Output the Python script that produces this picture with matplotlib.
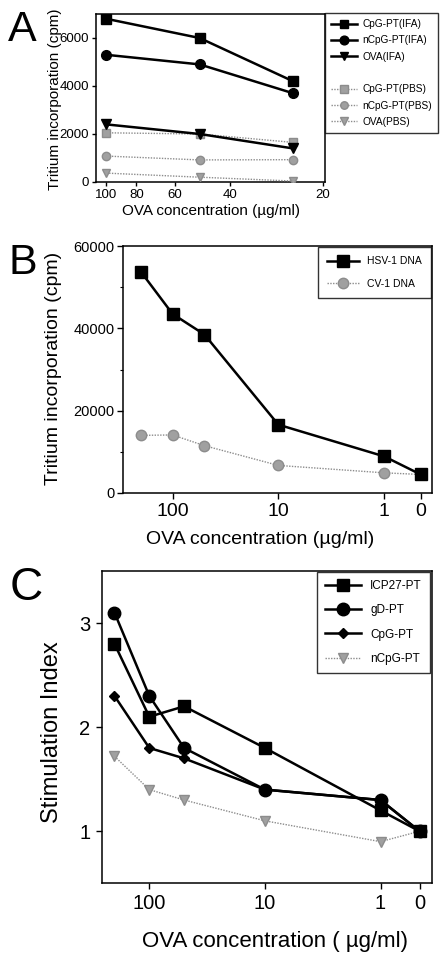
import matplotlib
matplotlib.use("Agg")
import matplotlib.pyplot as plt
from matplotlib.lines import Line2D
from matplotlib.ticker import FixedLocator, NullLocator, MultipleLocator

plt.rcParams['font.family'] = ['Liberation Sans', 'DejaVu Sans']

# ---------------- data ----------------
conc_A = [100, 50, 25]
cpg_ifa = [6800, 6000, 4200]
ncpg_ifa = [5300, 4900, 3700]
ova_ifa = [2400, 2000, 1400]
cpg_pbs = [2050, 2000, 1650]
ncpg_pbs = [1080, 920, 930]
ova_pbs = [370, 200, 40]
ticks_A = [100, 80, 60, 40, 20]

conc_B = [200, 100, 50, 10, 1, 0]
hsv_dna = [53800, 43500, 38500, 16600, 8900, 4500]
cv_dna = [14000, 14100, 11500, 6700, 4900, 4500]

conc_C = [200, 100, 50, 10, 1, 0]
icp27 = [2.8, 2.1, 2.2, 1.8, 1.2, 1.0]
gd = [3.1, 2.3, 1.8, 1.4, 1.3, 1.0]
cpg = [2.3, 1.8, 1.7, 1.4, 1.3, 1.0]
ncpg = [1.72, 1.4, 1.3, 1.1, 0.9, 1.0]
ticks_BC = [100, 10, 1, 0]
ticklabels_BC = ['100', '10', '1', '0']

W, H = 441, 958
fig = plt.figure(figsize=(W / 100, H / 100), dpi=100)

def fbox(l, t, r, b):
    return [l / W, 1 - b / H, (r - l) / W, (b - t) / H]

GRAY = '#8c8c8c'
GRAYF = '#a0a0a0'
blk = dict(color='black', lw=1.8, zorder=4)
gry = dict(color=GRAY, lw=1.0, ls=(0, (1, 1)), zorder=3)

# ---------------- Panel A ----------------
axA = fig.add_axes(fbox(96, 14, 325, 182))
axA.set_xscale('log')
axA.plot(conc_A, cpg_ifa, marker='s', ms=7, mfc='black', mec='black', label='CpG-PT(IFA)', **blk)
axA.plot(conc_A, ncpg_ifa, marker='o', ms=7, mfc='black', mec='black', label='nCpG-PT(IFA)', **blk)
axA.plot(conc_A, ova_ifa, marker='v', ms=7, mfc='black', mec='black', label='OVA(IFA)', **blk)
axA.plot(conc_A, cpg_pbs, marker='s', ms=6, mfc=GRAYF, mec=GRAY, label='CpG-PT(PBS)', **gry)
axA.plot(conc_A, ncpg_pbs, marker='o', ms=6, mfc=GRAYF, mec=GRAY, label='nCpG-PT(PBS)', **gry)
axA.plot(conc_A, ova_pbs, marker='v', ms=6, mfc=GRAYF, mec=GRAY, label='OVA(PBS)', **gry)
axA.set_xlim(108, 19.7)
axA.set_ylim(0, 7000)
axA.xaxis.set_major_locator(FixedLocator(ticks_A))
axA.xaxis.set_minor_locator(NullLocator())
axA.set_xticklabels([str(t) for t in ticks_A])
axA.yaxis.set_major_locator(FixedLocator([0, 2000, 4000, 6000]))
axA.tick_params(labelsize=9.5, length=3, width=1, direction='out', pad=2)

hA, lA = axA.get_legend_handles_labels()
blank = Line2D([], [], color='none')
legA = fig.legend(hA[:3] + [blank] + hA[3:], lA[:3] + [''] + lA[3:],
                  loc='upper left', bbox_to_anchor=(325 / W, 1 - 13 / H),
                  bbox_transform=fig.transFigure, borderaxespad=0,
                  fontsize=7.3, frameon=True, fancybox=False, edgecolor='black',
                  handlelength=2.6, labelspacing=0.62, borderpad=0.6,
                  handletextpad=0.5, markerscale=0.9)
legA.get_frame().set_linewidth(1.0)

fig.text(22 / W, 1 - 30 / H, 'A', fontsize=31, ha='center', va='center')
fig.text(55 / W, 1 - 99 / H, 'Tritium incorporation (cpm)', rotation=90,
         fontsize=11, ha='center', va='center')
fig.text(211 / W, 1 - 211 / H, 'OVA concentration (\u00b5g/ml)', fontsize=11,
         ha='center', va='center')

# ---------------- Panel B ----------------
axB = fig.add_axes(fbox(122.7, 246, 432, 493))
axB.set_xscale('symlog', linthresh=1, linscale=0.311)
axB.plot(conc_B, hsv_dna, marker='s', ms=9, mfc='black', mec='black', label='HSV-1 DNA', **blk)
axB.plot(conc_B, cv_dna, marker='o', ms=7.5, mfc=GRAYF, mec=GRAY, label='CV-1 DNA', **gry)
axB.set_xlim(296, -0.31)
axB.set_ylim(0, 60000)
axB.xaxis.set_major_locator(FixedLocator(ticks_BC))
axB.xaxis.set_minor_locator(NullLocator())
axB.set_xticklabels(ticklabels_BC)
axB.yaxis.set_major_locator(FixedLocator([0, 20000, 40000, 60000]))
axB.yaxis.set_minor_locator(MultipleLocator(10000))
axB.tick_params(axis='x', labelsize=14, length=4, width=1, pad=3)
axB.tick_params(axis='y', labelsize=10.5, length=4, width=1, pad=2)
axB.tick_params(which='minor', length=2, width=0.8)
legB = axB.legend(loc='upper right', bbox_to_anchor=(431 / W, 1 - 247 / H),
                  bbox_transform=fig.transFigure, borderaxespad=0,
                  fontsize=7.5, frameon=True, fancybox=False, edgecolor='black',
                  handlelength=3.0, labelspacing=1.2, borderpad=0.9,
                  handletextpad=0.8)
legB.get_frame().set_linewidth(1.0)

fig.text(23 / W, 1 - 263 / H, 'B', fontsize=31, ha='center', va='center')
fig.text(54 / W, 1 - 368 / H, 'Tritium incorporation (cpm)', rotation=90,
         fontsize=14, ha='center', va='center')
fig.text(260 / W, 1 - 540 / H, 'OVA concentration (\u00b5g/ml)', fontsize=14,
         ha='center', va='center')

# ---------------- Panel C ----------------
axC = fig.add_axes(fbox(101.7, 571, 431.7, 883.3))
axC.set_xscale('symlog', linthresh=1, linscale=0.304)
axC.plot(conc_C, icp27, marker='s', ms=9, mfc='black', mec='black', label='ICP27-PT', **blk)
axC.plot(conc_C, gd, marker='o', ms=9, mfc='black', mec='black', label='gD-PT', **blk)
axC.plot(conc_C, cpg, marker='D', ms=5.5, mfc='black', mec='black', label='CpG-PT', **blk)
axC.plot(conc_C, ncpg, marker='v', ms=7, mfc=GRAYF, mec=GRAY, label='nCpG-PT', **gry)
axC.set_xlim(258, -0.31)
axC.set_ylim(0.5, 3.5)
axC.xaxis.set_major_locator(FixedLocator(ticks_BC))
axC.xaxis.set_minor_locator(NullLocator())
axC.set_xticklabels(ticklabels_BC)
axC.yaxis.set_major_locator(FixedLocator([1, 2, 3]))
axC.tick_params(labelsize=14.5, length=4, width=1, pad=4)
legC = axC.legend(loc='upper right', bbox_to_anchor=(430 / W, 1 - 571.5 / H),
                  bbox_transform=fig.transFigure, borderaxespad=0,
                  fontsize=8.5, frameon=True, fancybox=False, edgecolor='black',
                  handlelength=3.0, labelspacing=1.05, borderpad=0.7,
                  handletextpad=0.8)
legC.get_frame().set_linewidth(1.0)

fig.text(26 / W, 1 - 588 / H, 'C', fontsize=33, ha='center', va='center')
fig.text(52 / W, 1 - 732 / H, 'Stimulation Index', rotation=90,
         fontsize=17, ha='center', va='center')
fig.text(275 / W, 1 - 941 / H, 'OVA concentration ( \u00b5g/ml)', fontsize=16,
         ha='center', va='center')

for ax in (axA, axB, axC):
    for s in ax.spines.values():
        s.set_linewidth(1.1)

fig.savefig('out.png', dpi=100)
